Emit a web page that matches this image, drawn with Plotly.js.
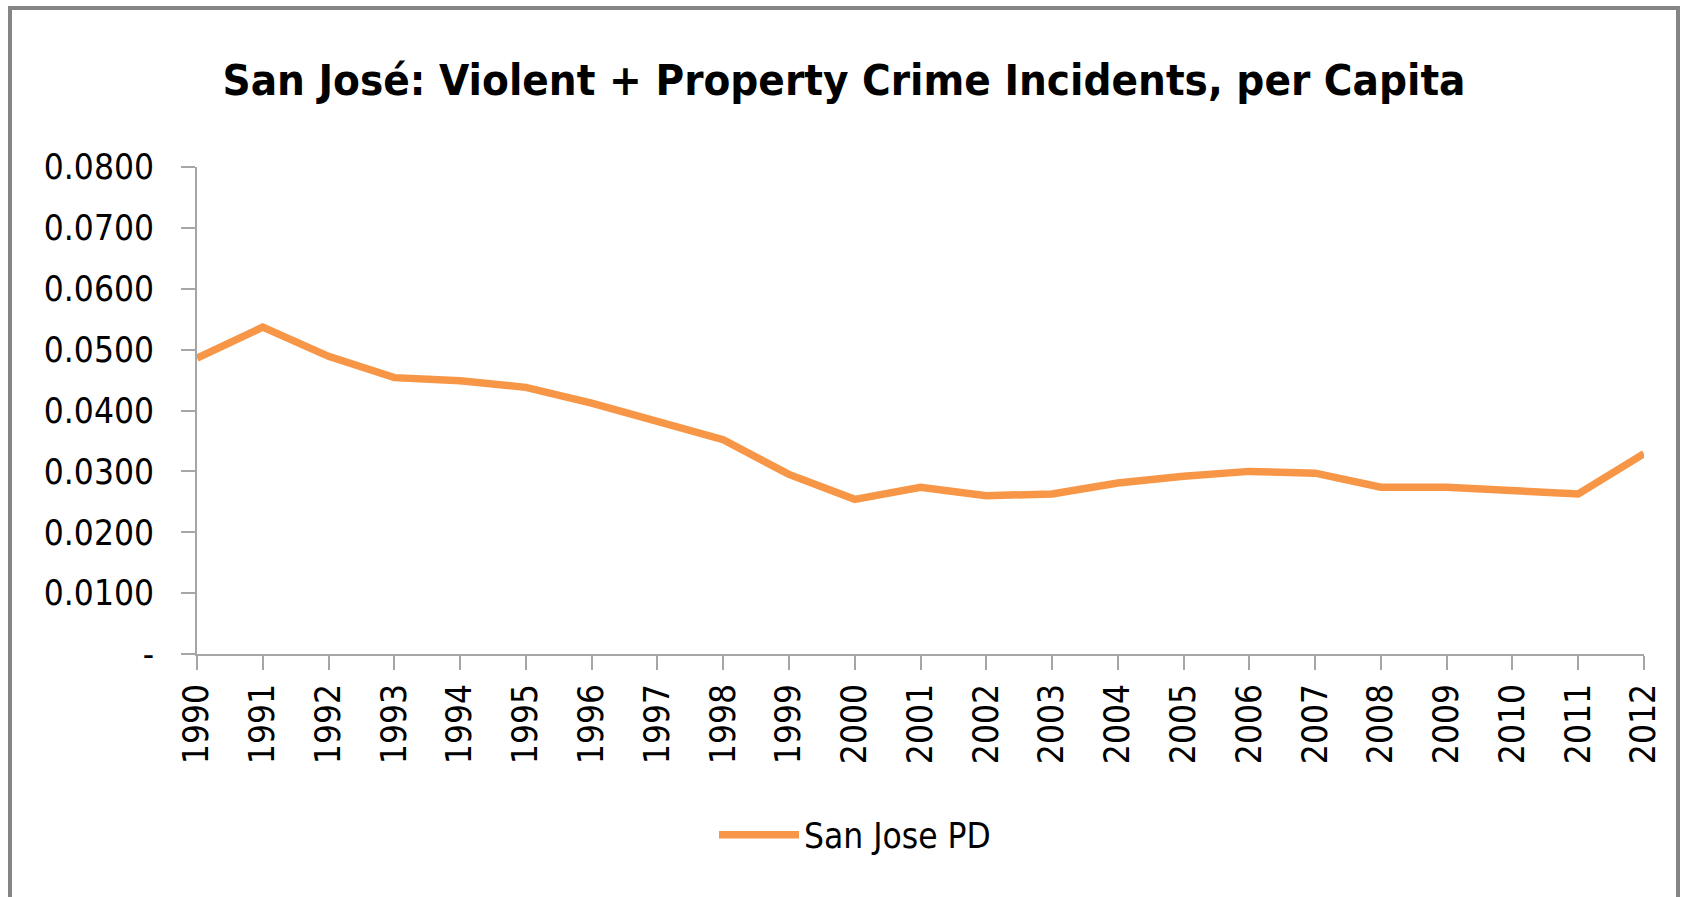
<!DOCTYPE html>
<html>
<head>
<meta charset="utf-8">
<script src="https://cdn.plot.ly/plotly-3.0.1.min.js"></script>
<style>
  html, body { margin: 0; padding: 0; background: #fff; }
  #wrap { position: relative; width: 1688px; height: 897px; }
  #chart { width: 1688px; height: 897px; }
  #frame { position: absolute; left: 8px; top: 6px; width: 1672px; height: 900px;
           border-left: 4px solid #858585; border-top: 4px solid #858585; border-right: 4px solid #858585;
           pointer-events: none; box-sizing: border-box; }
</style>
</head>
<body>
<div id="wrap">
  <div id="chart"></div>
  <div id="frame"></div>
</div>
<script>
const years = [1990,1991,1992,1993,1994,1995,1996,1997,1998,1999,2000,2001,2002,2003,2004,2005,2006,2007,2008,2009,2010,2011,2012];
const sanJosePD = [0.0486,0.0537,0.0489,0.0454,0.0449,0.0438,0.0412,0.0383,0.0352,0.0295,0.0254,0.0274,0.0260,0.0263,0.0281,0.0292,0.0300,0.0297,0.0274,0.0274,0.0267,0.0263,0.0329];
const yTickVals = [0,0.01,0.02,0.03,0.04,0.05,0.06,0.07,0.08];
const yTickText = ['-','0.0100','0.0200','0.0300','0.0400','0.0500','0.0600','0.0700','0.0800'];
const seriesName = 'San Jose PD';
const chartTitle = 'San José: Violent + Property Crime Incidents, per Capita';

const tickFont = {family: 'Liberation Sans Narrow, DejaVu Sans Condensed, Liberation Sans, Arial, sans-serif', size: 35, color: '#000'};

const trace = {
  x: years, y: sanJosePD, name: seriesName, type: 'scatter', mode: 'lines',
  line: {color: '#F79646', width: 7.5, shape: 'linear'},
  showlegend: true
};

const layout = {
  width: 1688, height: 897,
  margin: {l: 197, r: 44, t: 167, b: 242.5, pad: 0},
  paper_bgcolor: '#fff', plot_bgcolor: '#fff',
  title: {
    text: '<b>' + chartTitle + '</b>',
    font: {family: 'Liberation Sans Narrow, DejaVu Sans Condensed, Liberation Sans, Arial, sans-serif', size: 43.5, color: '#000'},
    xref: 'container', x: 0.5, xanchor: 'center',
    yref: 'container', y: 1 - 80/897, yanchor: 'middle'
  },
  xaxis: {
    range: [1990, 2012], tickmode: 'array', tickvals: years, ticktext: years.map(String),
    tickangle: -90, ticks: 'outside', ticklen: 14, tickwidth: 2, tickcolor: '#A6A6A6',
    showline: true, linecolor: '#A6A6A6', linewidth: 2, showgrid: false, zeroline: false,
    tickfont: tickFont, fixedrange: true
  },
  yaxis: {
    range: [0, 0.08], tickmode: 'array', tickvals: yTickVals, ticktext: yTickText,
    ticks: 'outside', ticklen: 14, tickwidth: 2, tickcolor: '#A6A6A6',
    showline: true, linecolor: '#A6A6A6', linewidth: 2, showgrid: false, zeroline: false,
    tickfont: tickFont, ticklabelstandoff: 20, fixedrange: true
  },
  legend: {
    orientation: 'h', x: 714/1688, xref: 'container', xanchor: 'left',
    y: 1 - 835/897, yref: 'container', yanchor: 'middle',
    font: tickFont, itemwidth: 80, bgcolor: 'rgba(0,0,0,0)'
  }
};

Plotly.newPlot('chart', [trace], layout, {staticPlot: true, displayModeBar: false});
</script>
</body>
</html>
